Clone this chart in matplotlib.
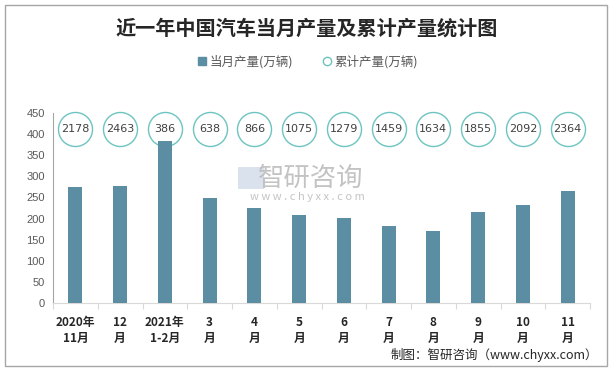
import numpy as np
import matplotlib.pyplot as plt
from matplotlib.lines import Line2D
from matplotlib.patches import Rectangle

plt.rcParams['font.family'] = ['Noto Sans CJK SC', 'DejaVu Sans']

# data
months = ["2020年\n11月", "12\n月", "2021年\n1-2月", "3\n月", "4\n月", "5\n月",
          "6\n月", "7\n月", "8\n月", "9\n月", "10\n月", "11\n月"]
monthly = [274, 277, 385, 249, 225, 208, 201, 182, 171, 216, 232, 266]
cumulative = [2178, 2463, 386, 638, 866, 1075, 1279, 1459, 1634, 1855, 2092, 2364]

bar_color = "#5b8ea3"
ring_color = "#6cc4c0"

fig = plt.figure(figsize=(6.14, 3.70), dpi=100)
ax = fig.add_axes([53 / 614, 1 - 302.7 / 370, 537 / 614, 189.4 / 370])

x = np.arange(len(months))
ax.bar(x, monthly, width=0.31, color=bar_color, zorder=3)

# cumulative values shown as rings across the top (drawn under the bars)
ax.plot(x, [412] * len(x), linestyle="none", marker="o", markersize=24.5,
        markerfacecolor="none", markeredgecolor=ring_color, markeredgewidth=1.0,
        clip_on=False, zorder=2)
for xi, v in zip(x, cumulative):
    ax.text(xi, 412, str(v), ha="center", va="center", fontsize=8,
            family="DejaVu Sans", color="#404040", zorder=4)

ax.set_xlim(-0.5, len(months) - 0.5)
ax.set_ylim(0, 450)
ax.set_yticks(range(0, 451, 50))
ax.tick_params(axis="y", length=0, labelsize=8, labelcolor="#595959", pad=6)
for lab in ax.get_yticklabels():
    lab.set_family("Liberation Sans")

ax.set_xticks(np.arange(-0.5, len(months), 1.0))
ax.set_xticklabels([])
ax.set_xticks(x, minor=True)
ax.set_xticklabels(months, minor=True, fontsize=8.5, fontweight="bold",
                   color="#262626", linespacing=1.3)
ax.tick_params(axis="x", which="major", length=4, color="#d9d9d9")
ax.tick_params(axis="x", which="minor", length=0, pad=9.5)

for s in ["top", "right"]:
    ax.spines[s].set_visible(False)
ax.spines["left"].set_color("#a6a6a6")
ax.spines["bottom"].set_color("#d9d9d9")

# title and legend
fig.text(0.5, 1 - 28 / 370, "近一年中国汽车当月产量及累计产量统计图", ha="center",
         va="center", fontsize=14.5, fontweight="bold", color="#262626")
handles = [
    Line2D([], [], linestyle="none", marker="s", markersize=6,
           markerfacecolor=bar_color, markeredgecolor=bar_color),
    Line2D([], [], linestyle="none", marker="o", markersize=6,
           markerfacecolor="white", markeredgecolor=ring_color),
]
fig.legend(handles, ["当月产量(万辆)", "累计产量(万辆)"], loc="center",
           bbox_to_anchor=(0.5, 1 - 62 / 370), ncol=2, frameon=False,
           fontsize=9, labelcolor="#595959", handletextpad=0.1,
           columnspacing=2.2, handlelength=1.0)

# watermark
fig.text(311 / 614, 1 - 178 / 370, "智研咨询", ha="center", va="center",
         fontsize=19, color="#b5b5b5", alpha=0.8, zorder=1)
fig.text(307 / 614, 1 - 197 / 370, "w w w . c h y x x . c o m", ha="center",
         va="center", fontsize=8, color="#b5b5b5", alpha=0.8, zorder=1)
fig.patches.append(Rectangle((238 / 614, 1 - 189 / 370), 26 / 614, 22 / 370,
                             transform=fig.transFigure, facecolor="#c9d6e6",
                             edgecolor="none", alpha=0.7))

# source note
fig.text(598 / 614, 1 - 355 / 370, "制图：智研咨询（www.chyxx.com）", ha="right",
         va="center", fontsize=9, color="#262626")

# outer frame
fig.patches.append(Rectangle((5 / 614, 1 - 366 / 370), 602 / 614, 361 / 370,
                             transform=fig.transFigure, fill=False,
                             edgecolor="#a6a6a6", linewidth=1.0))

fig.savefig("out.png", dpi=100)
